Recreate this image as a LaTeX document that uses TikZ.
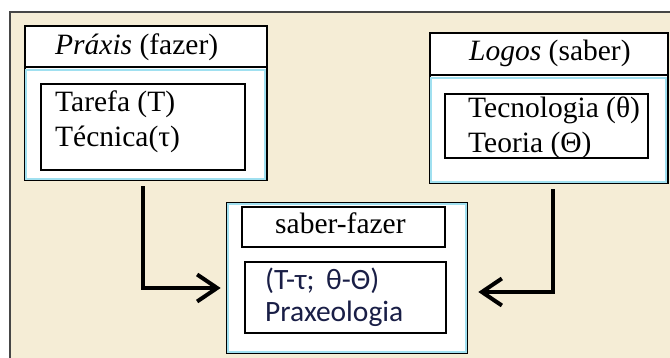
\documentclass[tikz,border=0pt]{standalone}
\usepackage{fontspec}
\setmainfont{Liberation Serif}
\newfontfamily\calibrifont{Carlito}
\usetikzlibrary{calc,arrows.meta}

\definecolor{bgbeige}{RGB}{245,237,214}
\definecolor{framegray}{RGB}{70,70,70}
\definecolor{lightcyan}{RGB}{160,224,240}
\definecolor{navytext}{RGB}{25,30,70}

\tikzset{
  outerbox/.style={draw=black, line width=2.6pt, fill=white, inner sep=0pt},
  headbox/.style={draw=black, line width=2pt, inner sep=0pt},
  innerbox/.style={draw=black, line width=2pt, inner sep=0pt},
  cyanline/.style={draw=lightcyan, line width=2pt},
  txt/.style={anchor=base west, inner sep=0pt, font=\fontsize{29.5}{34}\selectfont},
  sanstxt/.style={txt, font=\calibrifont\fontsize{29.5}{34}\selectfont, text=navytext},
  conn/.style={line width=4pt, -{Straight Barb[length=20pt,width=27pt]}}
}

\begin{document}
\begin{tikzpicture}[x=1pt,y=-1pt]
\useasboundingbox (0,0) rectangle (670,358);

% Inset of the light cyan line
\def\ins{2.6pt}

% Beige background and frame
\fill[bgbeige] (10,12) rectangle (690,380);
\draw[framegray, line width=1.5pt] (690,12) -- (10,12) -- (10,380);

% Praxis box
\node[outerbox, minimum width=242, minimum height=154] (praxis) at (146,103) {};
\node[headbox, minimum width=242, minimum height=41, anchor=north] (praxishead) at (praxis.north) {};
\draw[cyanline] ([shift={(\ins,\ins)}]praxis.south west) rectangle ([shift={(-\ins,-\ins)}]praxishead.south east);
\node[innerbox, minimum width=204, minimum height=86] (praxisbody) at (143,127) {};
\node[txt] (praxistitle) at (55,55) {\textit{Práxis} (fazer)};
\node[txt] (tarefa) at (55,112) {Tarefa (T)};
\node[txt] (tecnica) at (55,147) {Técnica(τ)};

% Logos box
\node[outerbox, minimum width=238, minimum height=150] (logos) at (549,108) {};
\node[headbox, minimum width=238, minimum height=42, anchor=north] (logoshead) at (logos.north) {};
\draw[cyanline] ([shift={(\ins,\ins)}]logos.south west) rectangle ([shift={(-\ins,-\ins)}]logoshead.south east);
\node[innerbox, minimum width=203, minimum height=64] (logosbody) at (546.5,126) {};
\node[txt] (logostitle) at (469,61) {\textit{Logos} (saber)};
\node[txt] (tecnologia) at (468,118) {Tecnologia (θ)};
\node[txt] (teoria) at (468,153) {Teoria (Θ)};

% saber-fazer box
\node[outerbox, minimum width=240, minimum height=150] (saberfazer) at (347,278) {};
\draw[cyanline] ([shift={(\ins,\ins)}]saberfazer.south west) rectangle ([shift={(-\ins,-\ins)}]saberfazer.north east);
\node[headbox, minimum width=203, minimum height=40] (sfhead) at (343.5,227) {};
\node[innerbox, minimum width=201, minimum height=71] (sfbody) at (345.5,297.5) {};
\node[txt] (sftitle) at (275,234) {saber-fazer};
\node[sanstxt] (tt) at (265,290) {(T-τ;\, θ-Θ)};
\node[sanstxt] (praxeologia) at (265,322) {Praxeologia};

% Connectors
\draw[conn, shorten <=5pt, shorten >=5pt] ([xshift=-3pt]praxis.south) |- ([yshift=-10pt]saberfazer.west);
\draw[conn, shorten <=5pt, shorten >=10pt] ([xshift=4pt]logos.south) |- ([yshift=-14pt]saberfazer.east);

\end{tikzpicture}
\end{document}
